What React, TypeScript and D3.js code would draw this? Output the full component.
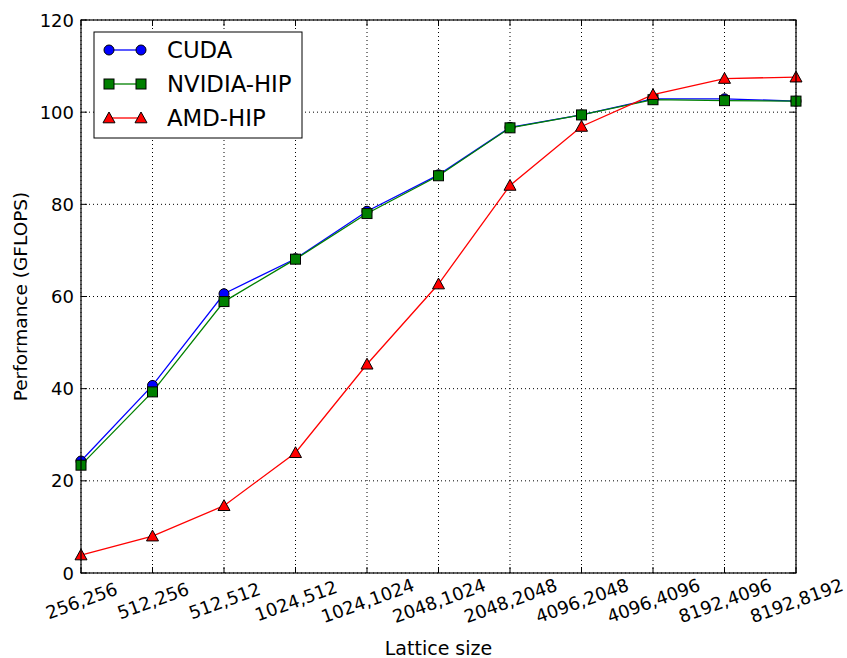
import React, { useEffect, useRef } from "react";
import * as d3 from "d3";

const categories = [
  "256,256", "512,256", "512,512", "1024,512", "1024,1024", "2048,1024",
  "2048,2048", "4096,2048", "4096,4096", "8192,4096", "8192,8192",
];
const cuda = [24.3, 40.7, 60.6, 68.2, 78.5, 86.4, 96.7, 99.4, 102.9, 102.9, 102.4];
const nvidiaHip = [23.4, 39.3, 58.9, 68.1, 78.0, 86.2, 96.6, 99.4, 102.7, 102.5, 102.4];
const amdHip = [3.9, 8.0, 14.6, 26.1, 45.3, 62.7, 84.1, 96.9, 103.8, 107.3, 107.6];
const yTicks = [0, 20, 40, 60, 80, 100, 120];

const series = [
  { name: "CUDA", values: cuda, color: "#0000ff", marker: "circle" },
  { name: "NVIDIA-HIP", values: nvidiaHip, color: "#008000", marker: "square" },
  { name: "AMD-HIP", values: amdHip, color: "#ff0000", marker: "triangle" },
];

const W = 847;
const H = 658;
const margin = { left: 81, right: 51, top: 20, bottom: 85 };

function drawMarker(g, kind, x, y, fill) {
  if (kind === "circle") {
    g.append("circle").attr("cx", x).attr("cy", y).attr("r", 5)
      .attr("fill", fill).attr("stroke", "black").attr("stroke-width", 1);
  } else if (kind === "square") {
    g.append("rect").attr("x", x - 5).attr("y", y - 5).attr("width", 10).attr("height", 10)
      .attr("fill", fill).attr("stroke", "black").attr("stroke-width", 1);
  } else {
    const s = 6;
    g.append("path")
      .attr("d", `M${x},${y - s}L${x + s},${y + s * 0.8}L${x - s},${y + s * 0.8}Z`)
      .attr("fill", fill).attr("stroke", "black").attr("stroke-width", 1);
  }
}

export default function App() {
  const ref = useRef(null);

  useEffect(() => {
    const svg = d3.select(ref.current);
    svg.selectAll("*").remove();
    const font = "DejaVu Sans, sans-serif";

    const x = d3.scaleLinear().domain([0, categories.length - 1])
      .range([margin.left, W - margin.right]);
    const y = d3.scaleLinear().domain([0, 120]).range([H - margin.bottom, margin.top]);
    const x0 = margin.left, x1 = W - margin.right;
    const y0 = H - margin.bottom, y1 = margin.top;

    svg.append("rect").attr("width", W).attr("height", H).attr("fill", "white");

    // grid
    const grid = svg.append("g").attr("stroke", "black").attr("stroke-width", 1)
      .attr("stroke-dasharray", "1,3");
    categories.forEach((c, i) => {
      grid.append("line").attr("x1", x(i)).attr("x2", x(i)).attr("y1", y0).attr("y2", y1);
    });
    yTicks.forEach((t) => {
      grid.append("line").attr("x1", x0).attr("x2", x1).attr("y1", y(t)).attr("y2", y(t));
    });

    // lines + markers
    const line = d3.line().x((d, i) => x(i)).y((d) => y(d));
    series.forEach((s) => {
      svg.append("path").datum(s.values).attr("d", line).attr("fill", "none")
        .attr("stroke", s.color).attr("stroke-width", 1.3);
    });
    series.forEach((s) => {
      const g = svg.append("g");
      s.values.forEach((v, i) => drawMarker(g, s.marker, x(i), y(v), s.color));
    });

    // frame
    svg.append("rect").attr("x", x0).attr("y", y1).attr("width", x1 - x0).attr("height", y0 - y1)
      .attr("fill", "none").attr("stroke", "black").attr("stroke-width", 1.2);

    // ticks
    const ticks = svg.append("g").attr("stroke", "black").attr("stroke-width", 1);
    categories.forEach((c, i) => {
      ticks.append("line").attr("x1", x(i)).attr("x2", x(i)).attr("y1", y0).attr("y2", y0 - 6);
      ticks.append("line").attr("x1", x(i)).attr("x2", x(i)).attr("y1", y1).attr("y2", y1 + 6);
      svg.append("text")
        .attr("transform", `translate(${x(i) + 1},${y0 + 29}) rotate(-20)`)
        .attr("text-anchor", "middle").attr("dominant-baseline", "middle")
        .attr("font-family", font).attr("font-size", 18).text(c);
    });
    yTicks.forEach((t) => {
      ticks.append("line").attr("x1", x0).attr("x2", x0 + 6).attr("y1", y(t)).attr("y2", y(t));
      ticks.append("line").attr("x1", x1).attr("x2", x1 - 6).attr("y1", y(t)).attr("y2", y(t));
      svg.append("text").attr("x", x0 - 7).attr("y", y(t) + 6.5)
        .attr("text-anchor", "end").attr("font-family", font).attr("font-size", 18).text(t);
    });

    // axis labels
    svg.append("text").attr("x", (x0 + x1) / 2).attr("y", 655)
      .attr("text-anchor", "middle").attr("font-family", font).attr("font-size", 19)
      .text("Lattice size");
    svg.append("text").attr("transform", `translate(27,${(y0 + y1) / 2}) rotate(-90)`)
      .attr("text-anchor", "middle").attr("font-family", font).attr("font-size", 18.5)
      .text("Performance (GFLOPS)");

    // legend
    const lg = svg.append("g");
    lg.append("rect").attr("x", 94).attr("y", 32).attr("width", 208).attr("height", 106)
      .attr("fill", "white").attr("stroke", "black").attr("stroke-width", 1);
    series.forEach((s, i) => {
      const ly = 50 + i * 34;
      lg.append("line").attr("x1", 109).attr("x2", 141).attr("y1", ly).attr("y2", ly)
        .attr("stroke", s.color).attr("stroke-width", 1.3);
      drawMarker(lg, s.marker, 109, ly, s.color);
      drawMarker(lg, s.marker, 141, ly, s.color);
      lg.append("text").attr("x", 167).attr("y", ly + 8)
        .attr("font-family", font).attr("font-size", 22.8).text(s.name);
    });
  }, []);

  return (
    <svg
      ref={ref}
      width={W}
      height={H}
      style={{ display: "block", position: "fixed", left: 0, top: 0 }}
    />
  );
}
